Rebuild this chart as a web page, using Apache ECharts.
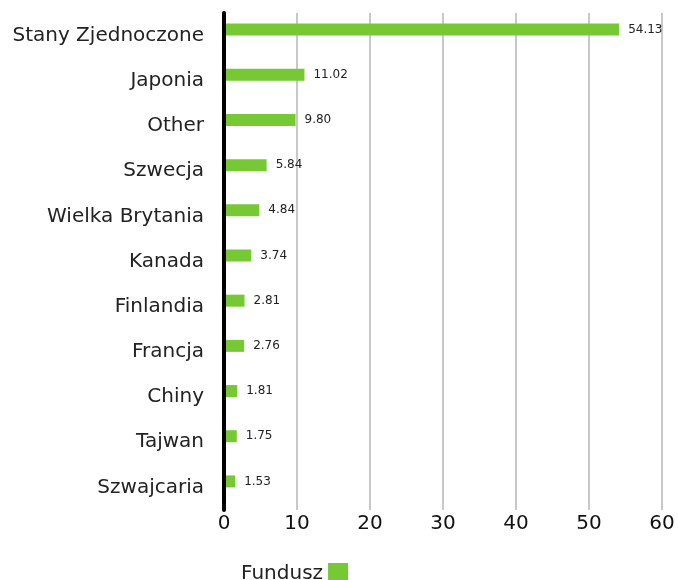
<!DOCTYPE html>
<html>
<head>
<meta charset="utf-8">
<script src="https://cdn.jsdelivr.net/npm/echarts@6/dist/echarts.min.js"></script>
<style>
  html, body { margin: 0; padding: 0; background: #fff; }
  #chart { width: 678px; height: 580px; }
</style>
</head>
<body>
<div id="chart"></div>
<script>
// kraje - od gory do dolu
var countries = ['Stany Zjednoczone', 'Japonia', 'Other', 'Szwecja', 'Wielka Brytania',
  'Kanada', 'Finlandia', 'Francja', 'Chiny', 'Tajwan', 'Szwajcaria']
var fundusz = [54.13, 11.02, 9.80, 5.84, 4.84, 3.74, 2.81, 2.76, 1.81, 1.75, 1.53]
var xTicks = [0, 10, 20, 30, 40, 50, 60]

var font = '"DejaVu Sans", sans-serif'
var chart = echarts.init(document.getElementById('chart'))

chart.setOption({
  animation: false,
  grid: { left: 224, right: 16, top: 13, bottom: 70, containLabel: false },
  legend: {
    data: ['Fundusz'],
    left: 236, top: 558,
    align: 'right',
    itemWidth: 20, itemHeight: 21,
    itemGap: 8,
    icon: 'rect',
    textStyle: { fontFamily: font, fontSize: 20, color: '#222' }
  },
  xAxis: {
    type: 'value',
    min: xTicks[0], max: xTicks[xTicks.length - 1], interval: 10,
    axisLine: { show: false },
    axisTick: { show: false },
    axisLabel: { fontFamily: font, fontSize: 20, color: '#111', margin: 4 },
    splitLine: { lineStyle: { color: '#c8c8c8', width: 2 } }
  },
  yAxis: {
    type: 'category',
    inverse: true,
    data: countries,
    z: 5,
    axisLine: { lineStyle: { color: '#000', width: 4 } },
    axisTick: { show: false },
    axisLabel: { fontFamily: font, fontSize: 20, color: '#222', margin: 20 }
  },
  series: [
    {
      name: 'Fundusz',
      type: 'bar',
      data: fundusz,
      barWidth: 12,
      barGap: '0%',
      itemStyle: { color: '#76c935' },
      label: {
        show: true, position: 'right', distance: 9,
        formatter: function (p) { return p.value.toFixed(2) },
        fontFamily: font, fontSize: 12, color: '#222'
      }
    },
    {
      // drugi slupek pusty (przesuniecie jak w oryginale)
      name: '_',
      type: 'bar',
      data: [],
      barWidth: 12
    }
  ]
})
</script>
</body>
</html>
